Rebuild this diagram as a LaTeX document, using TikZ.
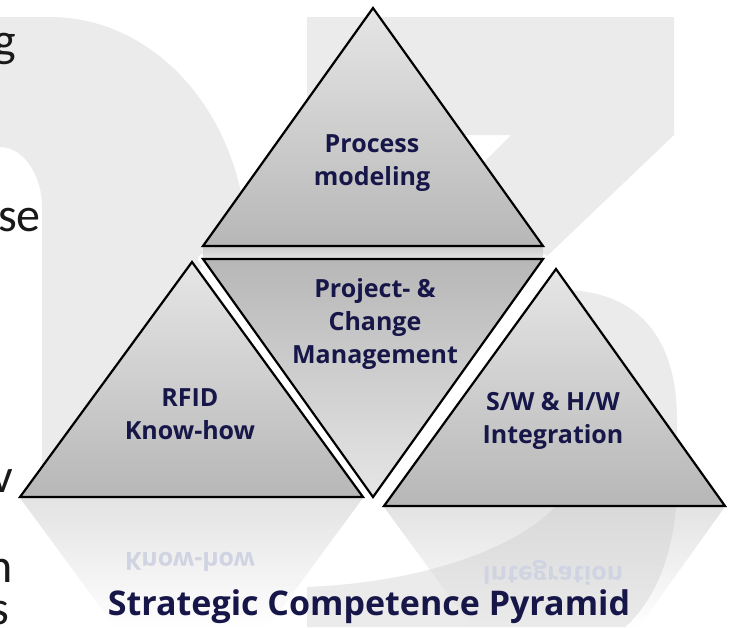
\documentclass[tikz,border=0pt]{standalone}
\usepackage{fontspec}
\setmainfont{Open Sans}
\newfontfamily\carlito{Carlito}
\usetikzlibrary{fadings}
\definecolor{wm}{RGB}{235,235,235}
\definecolor{navy}{RGB}{22,22,72}
\definecolor{tritop}{RGB}{230,230,230}
\definecolor{tribot}{RGB}{183,183,183}
\definecolor{reflc}{RGB}{200,200,200}
\definecolor{refltext}{RGB}{208,211,225}
\definecolor{leftink}{RGB}{25,25,25}
\tikzfading[name=reflfade, top color=transparent!50, bottom color=transparent!100]
\begin{document}
\begin{tikzpicture}[x=1pt,y=-1pt,
  tri/.style={top color=tritop, bottom color=tribot, draw=black, line width=2.2pt, line join=miter},
  invtri/.style={top color=tribot, bottom color=tritop, draw=black, line width=2.2pt, line join=miter},
  lbl/.style={font=\fontsize{25}{33}\selectfont\bfseries, text=navy, align=center, inner sep=0pt},
  refl/.style={font=\fontsize{25}{33}\selectfont\bfseries, text=refltext, inner sep=0pt},
  lefttxt/.style={font=\carlito\fontsize{48}{56}\selectfont, text=leftink, inner sep=0pt, anchor=base east},
  titletxt/.style={font=\fontsize{34}{40}\selectfont\bfseries, text=navy, inner sep=0pt, anchor=base}]
\useasboundingbox (0,0) rectangle (731,627);
\fill[white] (0,0) rectangle (731,627);
% watermark
\fill[wm] (0,17) -- (50,17) .. controls (159,17) and (247,121) .. (247,250) -- (200,268) -- (200,497) -- (42,497) -- (42,207) .. controls (42,174) and (23,147) .. (0,147) -- cycle;
\fill[wm] (307,17) -- (674,17) -- (674,135) -- (545,258) -- (388,258) -- (511,135) -- (430,135) -- (307,258) -- cycle;
\fill[wm] (307,587) .. controls (430,582) and (520,545) .. (556,506) -- (556,290) .. controls (640,288) and (677,340) .. (677,420) -- (677,480) .. controls (677,560) and (650,605) .. (625,627) -- (307,627) -- cycle;
% left cut text
\node[lefttxt] (tg) at (16,56) {g};
\node[lefttxt] (tse) at (41,231) {se};
\node[lefttxt] (tv) at (13,492) {v};
\node[lefttxt] (tn) at (13,582) {n};
\node[lefttxt] (ts) at (9,624) {s};
% white halo of inverted triangle
\draw[white, line width=10pt, line join=round] (203,259) -- (543,259) -- (373,497) -- cycle;
% reflection strip under top triangle
\shade[top color={rgb,255:red,205;green,205;blue,205}, bottom color={rgb,255:red,228;green,228;blue,228}] (203,247) rectangle (543,258);
% reflections
\fill[reflc, path fading=reflfade] (20,498) -- (363,498) -- (268,627) -- (115,627) -- cycle;
\fill[reflc, path fading=reflfade] (384,507) -- (725,507) -- (639,627) -- (472,627) -- cycle;
\node[refl] (rknow) at (190,562) {\scalebox{1}[-1]{Know-how}};
\node[refl] (rinteg) at (553,573) {\scalebox{1}[-1]{Integration}};
% triangles
\shade[tri] (373,8) -- (543,246) -- (203,246) -- cycle;
\shade[invtri] (203,259) -- (543,259) -- (373,497) -- cycle;
\shade[tri] (192,262) -- (363,497) -- (20,497) -- cycle;
\shade[tri] (556,269) -- (725,506) -- (384,506) -- cycle;
% labels
\node[lbl] (proc) at (372,163) {Process\\modeling};
\node[lbl] (proj) at (375,324) {Project- \&\\Change\\Management};
\node[lbl] (rfid) at (190,414) {RFID\\Know-how};
\node[lbl] (sw) at (553,421) {S/W \& H/W\\Integration};
\node[titletxt] (title) at (369,615) {Strategic Competence Pyramid};
\end{tikzpicture}
\end{document}
